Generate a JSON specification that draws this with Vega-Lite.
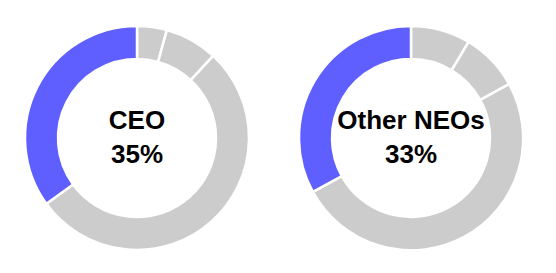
{
  "$schema": "https://vega.github.io/schema/vega-lite/v6.json",
  "background": "white",
  "padding": {"left": 0, "top": 1, "right": 0, "bottom": 0},
  "spacing": 0,
  "datasets": {
    "segments": [
      {"group": "CEO", "seq": 1, "component": "Component A", "highlight": "no", "share": 4.3},
      {"group": "CEO", "seq": 2, "component": "Component B", "highlight": "no", "share": 7.6},
      {"group": "CEO", "seq": 3, "component": "Component C", "highlight": "no", "share": 53.1},
      {"group": "CEO", "seq": 4, "component": "Highlighted", "highlight": "yes", "share": 35},
      {"group": "Other NEOs", "seq": 1, "component": "Component A", "highlight": "no", "share": 8.6},
      {"group": "Other NEOs", "seq": 2, "component": "Component B", "highlight": "no", "share": 8.4},
      {"group": "Other NEOs", "seq": 3, "component": "Component C", "highlight": "no", "share": 50},
      {"group": "Other NEOs", "seq": 4, "component": "Highlighted", "highlight": "yes", "share": 33}
    ],
    "labels": [
      {"group": "CEO", "label": "CEO\n35%"},
      {"group": "Other NEOs", "label": "Other NEOs\n33%"}
    ]
  },
  "hconcat": [
    {
      "width": 274,
      "height": 274,
      "layer": [
        {
          "data": {"name": "segments"},
          "transform": [{"filter": "datum.group === 'CEO'"}],
          "mark": {"type": "arc", "outerRadius": 112, "innerRadius": 79, "stroke": "white", "strokeWidth": 2.5},
          "encoding": {
            "theta": {"field": "share", "type": "quantitative", "stack": true},
            "order": {"field": "seq", "type": "quantitative"},
            "color": {"field": "highlight", "type": "nominal", "scale": {"domain": ["yes", "no"], "range": ["#5F5FFF", "#CCCCCC"]}, "legend": null}
          }
        },
        {
          "data": {"name": "labels"},
          "transform": [{"filter": "datum.group === 'CEO'"}],
          "mark": {"type": "text", "font": "Liberation Sans", "fontSize": 26, "fontWeight": "bold", "lineBreak": "\n", "lineHeight": 34, "dy": -17, "align": "center", "baseline": "middle", "color": "black"},
          "encoding": {"text": {"field": "label", "type": "nominal"}}
        }
      ]
    },
    {
      "width": 274,
      "height": 274,
      "layer": [
        {
          "data": {"name": "segments"},
          "transform": [{"filter": "datum.group === 'Other NEOs'"}],
          "mark": {"type": "arc", "outerRadius": 112, "innerRadius": 79, "stroke": "white", "strokeWidth": 2.5},
          "encoding": {
            "theta": {"field": "share", "type": "quantitative", "stack": true},
            "order": {"field": "seq", "type": "quantitative"},
            "color": {"field": "highlight", "type": "nominal", "scale": {"domain": ["yes", "no"], "range": ["#5F5FFF", "#CCCCCC"]}, "legend": null}
          }
        },
        {
          "data": {"name": "labels"},
          "transform": [{"filter": "datum.group === 'Other NEOs'"}],
          "mark": {"type": "text", "font": "Liberation Sans", "fontSize": 26, "fontWeight": "bold", "lineBreak": "\n", "lineHeight": 34, "dy": -17, "align": "center", "baseline": "middle", "color": "black"},
          "encoding": {"text": {"field": "label", "type": "nominal"}}
        }
      ]
    }
  ],
  "config": {"view": {"stroke": null}}
}
